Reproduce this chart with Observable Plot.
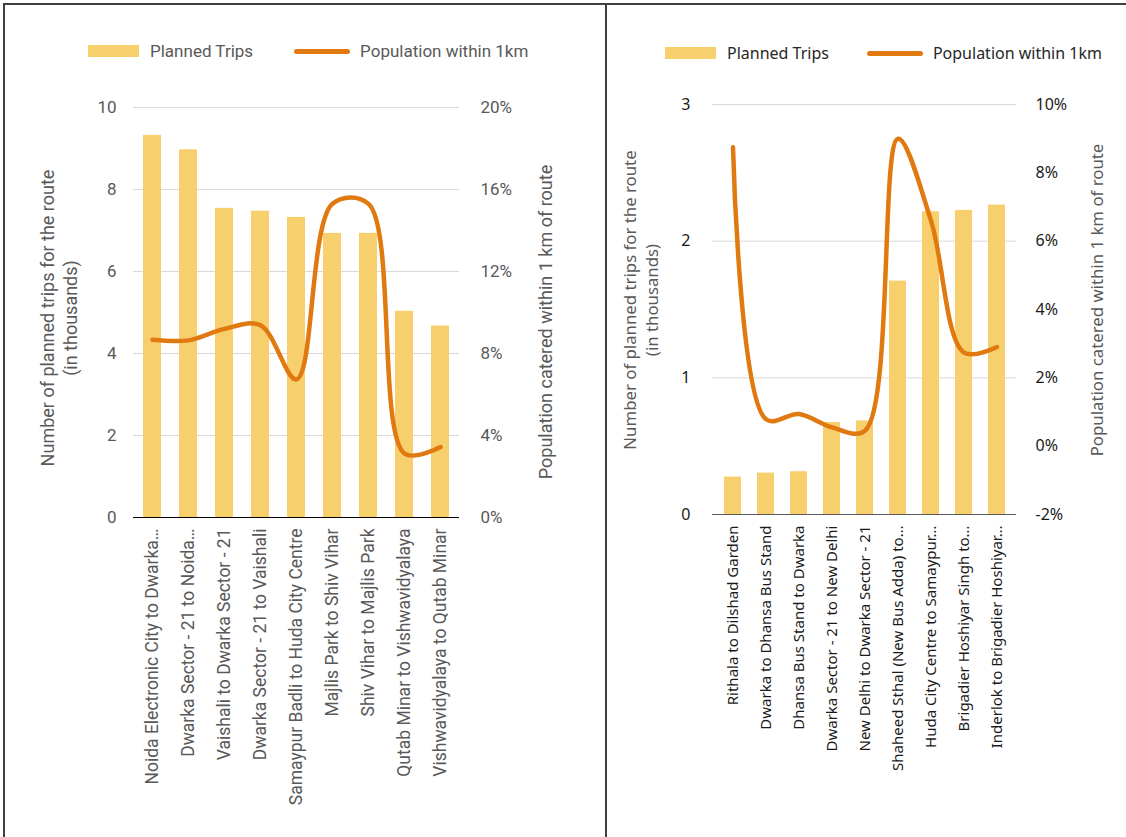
<!DOCTYPE html>
<html>
<head>
<meta charset="utf-8">
<script src="https://cdn.jsdelivr.net/npm/d3@7"></script>
<script src="https://cdn.jsdelivr.net/npm/@observablehq/plot@0.6"></script>
<style>
  html, body { margin: 0; padding: 0; background: #fff; }
  #page { position: relative; width: 1126px; height: 837px; overflow: hidden; background: #fff; }
  .frame { position: absolute; background: #404040; }
  .plotbox { position: absolute; top: 90px; }
  .legend { position: absolute; display: flex; align-items: center; white-space: nowrap; }
  .legend .sw { display: inline-block; }
  .title { position: absolute; white-space: pre; text-align: center;
           transform: translate(-50%, -50%) rotate(-90deg); }
</style>
</head>
<body>
<div id="page"></div>
<script>
// Left panel: busiest routes
const routesA = [
  "Noida Electronic City to Dwarka…",
  "Dwarka Sector - 21 to Noida…",
  "Vaishali to Dwarka Sector - 21",
  "Dwarka Sector - 21 to Vaishali",
  "Samaypur Badli to Huda City Centre",
  "Majlis Park to Shiv Vihar",
  "Shiv Vihar to Majlis Park",
  "Qutab Minar to Vishwavidyalaya",
  "Vishwavidyalaya to Qutab Minar"
];
const tripsA = [9.32, 8.97, 7.54, 7.47, 7.32, 6.93, 6.93, 5.03, 4.67];   // thousands
const popA   = [8.67, 8.64, 9.2, 9.38, 6.74, 15.3, 15.3, 3.12, 3.44];   // percent
const ticksTripsA = [0, 2, 4, 6, 8, 10];
const ticksPopA   = [0, 4, 8, 12, 16, 20];

// Right panel: least used routes
const routesB = [
  "Rithala to Dilshad Garden",
  "Dwarka to Dhansa Bus Stand",
  "Dhansa Bus Stand to Dwarka",
  "Dwarka Sector - 21 to New Delhi",
  "New Delhi to Dwarka Sector - 21",
  "Shaheed Sthal (New Bus Adda) to…",
  "Huda City Centre to Samaypur…",
  "Brigadier Hoshiyar Singh to…",
  "Inderlok to Brigadier Hoshiyar…"
];
const tripsB = [0.274, 0.303, 0.313, 0.673, 0.685, 1.708, 2.215, 2.225, 2.264];
const popB   = [8.75, 0.79, 0.94, 0.55, 0.45, 9.0, 6.6, 2.74, 2.9];
const ticksTripsB = [0, 1, 2, 3];
const ticksPopB   = [-2, 0, 2, 4, 6, 8, 10];

const leftTitle = "Number of planned trips for the route\n(in thousands)";
const rightTitle = "Population catered within 1 km of route";

const barColor = "#F7D06D";
const lineColor = "#E07A10";
const page = document.getElementById("page");

function legend(left, top, font, color, gap) {
  const el = document.createElement("div");
  el.className = "legend";
  el.style.left = left + "px";
  el.style.top = top + "px";
  el.style.font = font;
  el.style.color = color;
  el.innerHTML =
    `<span class="sw" style="width:51px;height:12px;background:${barColor};margin-right:11px"></span>` +
    `<span>Planned Trips</span>` +
    `<span class="sw" style="width:56px;height:5px;border-radius:3px;background:${lineColor};margin-left:${gap}px;margin-right:10px"></span>` +
    `<span>Population within 1km</span>`;
  page.appendChild(el);
}

function title(text, cx, cy, font, color, lineHeight) {
  const el = document.createElement("div");
  el.className = "title";
  el.textContent = text;
  Object.assign(el.style, {left: cx + "px", top: cy + "px", font, color, lineHeight: lineHeight + "px"});
  page.appendChild(el);
}

function panel(cfg) {
  const {routes, trips, pop, ticksTrips, ticksPop, toY, invY, yMax,
         width, ml, mr, mt, mb, font, tickColor, xColor, baseColor,
         padL, padR, fontSize, xFontSize} = cfg;
  return Plot.plot({
    width, height: 747,
    marginLeft: ml, marginRight: mr, marginTop: mt, marginBottom: mb,
    style: {fontFamily: font, fontSize: fontSize + "px", background: "transparent", overflow: "visible"},
    x: {type: "band", domain: routes, paddingInner: 0.5, paddingOuter: 0.25, label: null},
    y: {domain: [0, yMax], label: null},
    marks: [
      Plot.gridY(ticksTrips.filter(t => t > 0), {stroke: "#d9d9d9", strokeOpacity: 1, strokeWidth: 1}),
      Plot.barY(trips, {x: (d, i) => routes[i], y: d => d, fill: barColor}),
      Plot.ruleY([0], {stroke: baseColor, strokeWidth: 1.2}),
      Plot.line(pop, {x: (d, i) => routes[i], y: d => toY(d), curve: "catmull-rom",
        stroke: lineColor, strokeWidth: 4.5, strokeLinecap: "round", strokeLinejoin: "round"}),
      Plot.axisY(ticksTrips, {anchor: "left", tickSize: 0, tickPadding: padL, fill: tickColor, fontSize,
        tickFormat: d => String(d), label: null}),
      Plot.axisY(ticksPop.map(toY), {anchor: "right", tickSize: 0, tickPadding: padR, fill: tickColor, fontSize,
        tickFormat: d => Math.round(invY(d)) + "%", label: null}),
      Plot.axisX({tickRotate: -90, tickSize: 0, tickPadding: 11, fill: xColor, fontSize: xFontSize, label: null})
    ]
  });
}

// left chart: 20% sits at the top of the 0–10 trip scale
const cfgA = {
  routes: routesA, trips: tripsA, pop: popA, ticksTrips: ticksTripsA, ticksPop: ticksPopA,
  toY: p => p / 2, invY: y => y * 2, yMax: 10,
  width: 606, ml: 133, mr: 147, mt: 17, mb: 320,
  font: "Roboto, 'Liberation Sans', sans-serif", fontSize: 17, xFontSize: 17.5,
  tickColor: "#595959", xColor: "#595959", baseColor: "#000",
  padL: 17, padR: 21
};
// right chart: -2%…10% spans the 0–3 trip scale
const cfgB = {
  routes: routesB, trips: tripsB, pop: popB, ticksTrips: ticksTripsB, ticksPop: ticksPopB,
  toY: p => (p + 2) / 4, invY: y => y * 4 - 2, yMax: 3,
  width: 520, ml: 106, mr: 110, mt: 14, mb: 323,
  font: "'Noto Sans', 'Open Sans', sans-serif", fontSize: 16, xFontSize: 15,
  tickColor: "#1a1a1a", xColor: "#1a1a1a", baseColor: "#595959",
  padL: 22, padR: 19
};

const boxA = document.createElement("div");
boxA.className = "plotbox"; boxA.style.left = "0px";
boxA.appendChild(panel(cfgA));
page.appendChild(boxA);

const boxB = document.createElement("div");
boxB.className = "plotbox"; boxB.style.left = "606px";
boxB.appendChild(panel(cfgB));
page.appendChild(boxB);

legend(88, 41, "17px Roboto, sans-serif", "#595959", 41);
legend(665, 42, "16px 'Noto Sans', sans-serif", "#262626", 38);

title(leftTitle, 59, 318, "18px Roboto, sans-serif", "#595959", 23);
title(rightTitle, 545, 322, "18px Roboto, sans-serif", "#595959", 23);
title(leftTitle, 641, 300, "16.8px 'Noto Sans', sans-serif", "#595959", 22);
title(rightTitle, 1097, 300, "16.8px 'Noto Sans', sans-serif", "#595959", 22);

// panel frame lines
[["3px", "3px", "1123px", "2px"], ["3px", "3px", "2px", "834px"], ["605px", "3px", "2px", "834px"]]
  .forEach(([l, t, w, h]) => {
    const f = document.createElement("div");
    f.className = "frame";
    Object.assign(f.style, {left: l, top: t, width: w, height: h});
    page.appendChild(f);
  });
</script>
</body>
</html>
